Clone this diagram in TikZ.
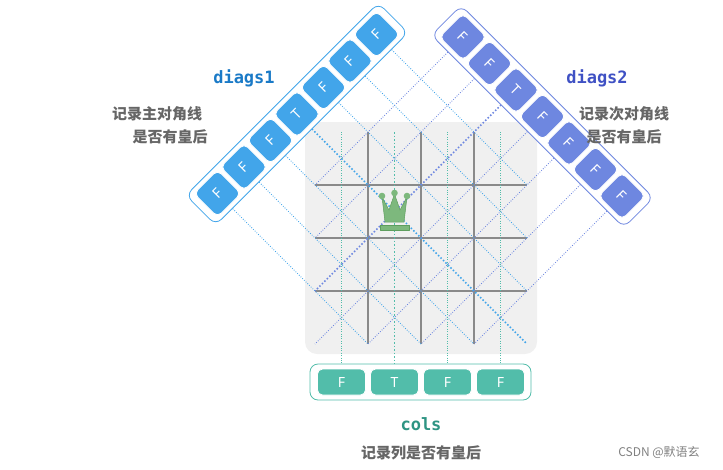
\documentclass[tikz,border=0pt]{standalone}
\usepackage{fontspec}
\setmainfont{Noto Sans}
\newfontfamily\cjk{Noto Sans CJK SC}
\newfontfamily\monob{DejaVu Sans Mono}
\definecolor{cA}{HTML}{42A5EA}
\definecolor{cB}{HTML}{6E87E0}
\definecolor{cC}{HTML}{52BDAA}
\definecolor{tA}{HTML}{1A7AC7}
\definecolor{tB}{HTML}{3F51C4}
\definecolor{tC}{HTML}{2E9483}
\definecolor{qg}{HTML}{7DB87D}
\definecolor{qd}{HTML}{5E9E5E}
\definecolor{board}{HTML}{F0F0F0}
\definecolor{gl}{HTML}{8A8A8A}
\definecolor{lbl}{HTML}{666666}
\tikzset{
  cell/.style={fill=#1, draw=white, line width=0.8pt, rounded corners=5pt, minimum size=33pt, inner sep=0pt, text=white, font=\fontsize{14}{14}\selectfont},
  holder/.style={draw=#1, fill=white, line width=0.8pt, rounded corners=8pt, inner sep=0pt},
  thinl/.style={draw=#1, dash pattern=on 0.8pt off 1.6pt, line width=0.8pt},
  thickl/.style={draw=#1, dash pattern=on 1.5pt off 2pt, line width=1.6pt},
  cjklbl/.style={text=lbl, font=\cjk\bfseries\fontsize{15}{15}\selectfont},
  queenpart/.style={fill=qg, draw=qd, line width=0.5pt, line join=round},
}
\begin{document}
\begin{tikzpicture}[x=1pt,y=-1pt]
\useasboundingbox (0,0) rectangle (723,469);
% board
\node[fill=board, rounded corners=12pt, minimum size=232pt, inner sep=0pt] (board) at (421,238) {};
\foreach \v in {368,421,474}{
  \draw[gl, line width=1.1pt] (\v,132) -- (\v,344);
  \draw[gl, line width=1.1pt] (315,\v-183) -- (527,\v-183);
}
% diags1 lines
\foreach \k in {0,...,6}{
  \pgfmathsetmacro{\c}{24+53*\k}
  \pgfmathsetmacro{\cx}{(411+\c)/2}
  \pgfmathsetmacro{\cy}{(411-\c)/2}
  \ifnum\k<4
    \pgfmathsetmacro{\ex}{344+\c}\pgfmathsetmacro{\ey}{344}
  \else
    \pgfmathsetmacro{\ex}{527}\pgfmathsetmacro{\ey}{527-\c}
  \fi
  \coordinate (a\k) at (\cx,\cy);
  \coordinate (ae\k) at (\ex,\ey);
  \ifnum\k=3 \draw[thickl=cA] (a\k) -- (ae\k); \else \draw[thinl=cA] (a\k) -- (ae\k); \fi
}
% diags2 lines
\foreach \k in {0,...,6}{
  \pgfmathsetmacro{\s}{500+53*\k}
  \pgfmathsetmacro{\cx}{(426+\s)/2}
  \pgfmathsetmacro{\cy}{(\s-426)/2}
  \ifnum\k<4
    \pgfmathsetmacro{\ex}{315}\pgfmathsetmacro{\ey}{\s-315}
  \else
    \pgfmathsetmacro{\ex}{\s-344}\pgfmathsetmacro{\ey}{344}
  \fi
  \coordinate (b\k) at (\cx,\cy);
  \coordinate (be\k) at (\ex,\ey);
  \ifnum\k=2 \draw[thickl=cB] (b\k) -- (be\k); \else \draw[thinl=cB] (b\k) -- (be\k); \fi
}
% column lines
\foreach \i/\x in {0/341.5,1/394.5,2/447.5,3/500.5}{
  \coordinate (ct\i) at (\x,132);
  \coordinate (cb\i) at (\x,368);
  \ifnum\i=1 \draw[thickl=cC] (ct\i) -- (cb\i); \else \draw[thinl=cC] (ct\i) -- (cb\i); \fi
}
% queen
\path[queenpart] (382,197) -- (389,210) -- (394.5,194) -- (400,210) -- (407,197) -- (404,222) -- (385,222) -- cycle;
\fill[qg] (382,196) circle (3.3) (394.5,193) circle (3.3) (407,196) circle (3.3);
\path[queenpart] (380,225) rectangle (409,230);
% holders
\node[holder=cA, rotate=45, minimum width=272pt, minimum height=42pt] (h1) at (297,114) {};
\node[holder=cB, rotate=-45, minimum width=272pt, minimum height=42pt] (h2) at (542.5,116.5) {};
\node[holder=cC, minimum width=221pt, minimum height=36pt] (h3) at (420.5,382) {};
% boxes
\foreach \k in {0,...,6}{
  \ifnum\k=3 \def\t{T}\else\def\t{F}\fi
  \node[cell=cA, rotate=45] (d1\k) at (a\k) {\t};
  \ifnum\k=2 \def\t{T}\else\def\t{F}\fi
  \node[cell=cB, rotate=-45] (d2\k) at (b\k) {\t};
}
\foreach \i/\x in {0/341.5,1/394.5,2/447.5,3/500.5}{
  \ifnum\i=1 \def\t{T}\else\def\t{F}\fi
  \node[cell=cC, minimum width=48pt, minimum height=26pt] (c\i) at (\x,382) {\t};
}
% labels
\node[text=tA, font=\monob\bfseries\fontsize{17}{17}\selectfont] (l1) at (244,78) {diags1};
\node[cjklbl] (l1a) at (157,114) {记录主对角线};
\node[cjklbl] (l1b) at (170,137) {是否有皇后};
\node[text=tB, font=\monob\bfseries\fontsize{17}{17}\selectfont] (l2) at (597,78) {diags2};
\node[cjklbl] (l2a) at (624,114) {记录次对角线};
\node[cjklbl] (l2b) at (624,137) {是否有皇后};
\node[text=tC, font=\monob\bfseries\fontsize{17}{17}\selectfont] (l3) at (421,424) {cols};
\node[cjklbl] (l3a) at (421,453) {记录列是否有皇后};
\node[text=gray, font=\cjk\fontsize{12}{12}\selectfont] (wm) at (659,452) {CSDN @默语玄};
\end{tikzpicture}
\end{document}
